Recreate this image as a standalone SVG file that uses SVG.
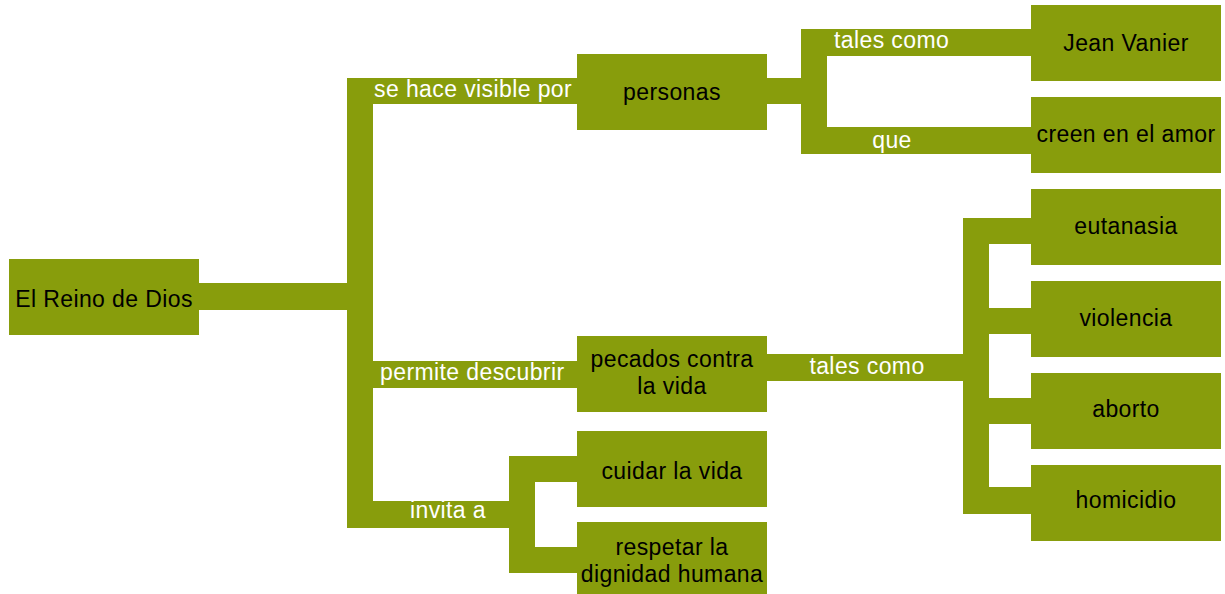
<svg xmlns="http://www.w3.org/2000/svg" width="1225" height="594" viewBox="0 0 1225 594">
<style>
.b{fill:#889d0c}
.c{fill:#889d0c}
.t{font-family:"Liberation Sans",Arial,sans-serif;font-size:23px;letter-spacing:0.4px;fill:#000;text-anchor:middle}
.l{font-family:"Liberation Sans",Arial,sans-serif;font-size:23px;letter-spacing:0.4px;fill:#fff}
</style>
<rect width="1225" height="594" fill="#fff"/>
<g id="connectors">
<rect class="c" x="199" y="283" width="148" height="27"/>
<rect class="c" x="347" y="78" width="26" height="450"/>
<rect class="c" x="373" y="78" width="204" height="26"/>
<rect class="c" x="373" y="361" width="204" height="27"/>
<rect class="c" x="373" y="501" width="136" height="27"/>
<rect class="c" x="767" y="78" width="34" height="26"/>
<rect class="c" x="801" y="29" width="26" height="125"/>
<rect class="c" x="827" y="29" width="204" height="27"/>
<rect class="c" x="827" y="127" width="204" height="27"/>
<rect class="c" x="767" y="354" width="196" height="27"/>
<rect class="c" x="963" y="218" width="26" height="296"/>
<rect class="c" x="989" y="218" width="42" height="26"/>
<rect class="c" x="989" y="308" width="42" height="26"/>
<rect class="c" x="989" y="398" width="42" height="26"/>
<rect class="c" x="989" y="487" width="42" height="27"/>
<rect class="c" x="509" y="456" width="26" height="117"/>
<rect class="c" x="535" y="456" width="42" height="26"/>
<rect class="c" x="535" y="547" width="42" height="26"/>
<text class="l" x="374" y="97">se hace visible por</text>
<text class="l" x="380" y="380">permite descubrir</text>
<text class="l" x="448" y="518" text-anchor="middle">invita a</text>
<text class="l" x="834" y="48">tales como</text>
<text class="l" x="892" y="148" text-anchor="middle">que</text>
<text class="l" x="867" y="374" text-anchor="middle">tales como</text>
</g>
<g id="root"><rect class="b" x="9" y="259" width="190" height="76"/><text class="t" x="104" y="307">El Reino de Dios</text></g>
<g id="personas"><rect class="b" x="577" y="54" width="190" height="76"/><text class="t" x="672" y="100">personas</text></g>
<g id="jean"><rect class="b" x="1031" y="5" width="190" height="76"/><text class="t" x="1126" y="51">Jean Vanier</text></g>
<g id="creen"><rect class="b" x="1031" y="97" width="190" height="76"/><text class="t" x="1126" y="142">creen en el amor</text></g>
<g id="pecados"><rect class="b" x="577" y="336" width="190" height="76"/><text class="t" x="672" y="367">pecados contra</text><text class="t" x="672" y="394">la vida</text></g>
<g id="eutanasia"><rect class="b" x="1031" y="189" width="190" height="76"/><text class="t" x="1126" y="234">eutanasia</text></g>
<g id="violencia"><rect class="b" x="1031" y="281" width="190" height="76"/><text class="t" x="1126" y="326">violencia</text></g>
<g id="aborto"><rect class="b" x="1031" y="373" width="190" height="76"/><text class="t" x="1126" y="417">aborto</text></g>
<g id="homicidio"><rect class="b" x="1031" y="465" width="190" height="76"/><text class="t" x="1126" y="508">homicidio</text></g>
<g id="cuidar"><rect class="b" x="577" y="431" width="190" height="76"/><text class="t" x="672" y="479">cuidar la vida</text></g>
<g id="respetar"><rect class="b" x="577" y="522" width="190" height="76"/><text class="t" x="672" y="555">respetar la</text><text class="t" x="672" y="582">dignidad humana</text></g>
</svg>
